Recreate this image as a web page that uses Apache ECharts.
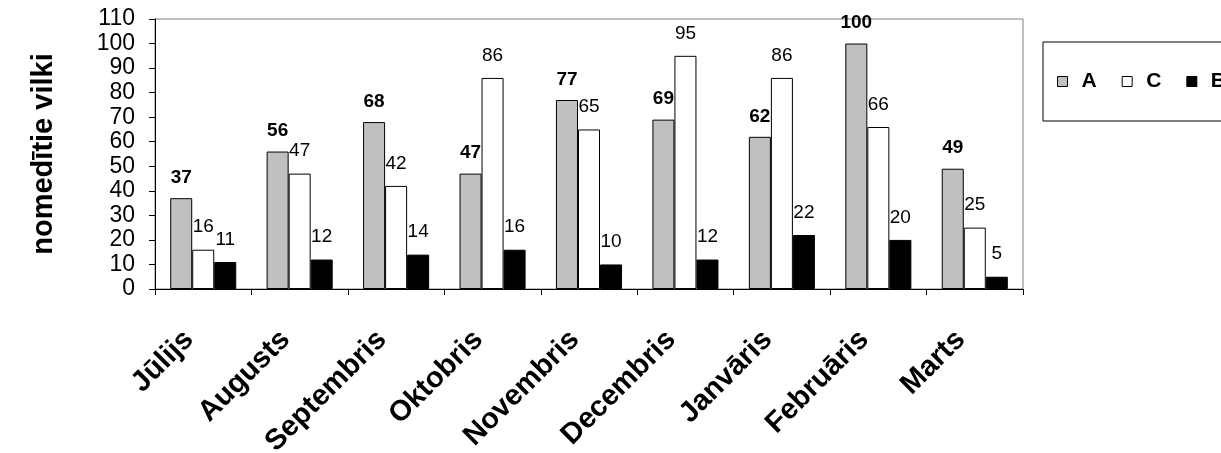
<!DOCTYPE html>
<html>
<head>
<meta charset="utf-8">
<script src="https://cdn.jsdelivr.net/npm/echarts@6/dist/echarts.min.js"></script>
<style>
html,body{margin:0;padding:0;background:#fff;}
#main{width:1221px;height:453px;}
</style>
</head>
<body>
<div id="main"></div>
<script>
const categories = ['Jūlijs','Augusts','Septembris','Oktobris','Novembris','Decembris','Janvāris','Februāris','Marts'];
const seriesA = [37,56,68,47,77,69,62,100,49];
const seriesC = [16,47,42,86,65,95,86,66,25];
const seriesB = [11,12,14,16,10,12,22,20,5];
const yTicks = {min:0, max:110, interval:10};
const yName = 'nomedītie vilki';

const FONT = 'Arial, "Liberation Sans", sans-serif';
const chart = echarts.init(document.getElementById('main'), null, {renderer:'canvas'});

function barSeries(name, data, color, bold, dist){
  return {
    name: name, type:'bar', data: data,
    barGap:'0%', barCategoryGap:'31.5%',
    itemStyle:{color:color, borderColor:'#000', borderWidth:1},
    label:{show:true, position:'top', distance:dist, color:'#000',
      fontFamily:FONT, fontSize:19, fontWeight: bold?'bold':'normal'},
    emphasis:{disabled:true}
  };
}

chart.setOption({
  animation:false,
  backgroundColor:'#fff',
  grid:{left:155, right:198, top:19, bottom:164, containLabel:false, outerBoundsMode:'none',
    show:true, borderColor:'#808080', borderWidth:1, backgroundColor:'transparent'},
  legend:{
    left:1043, top:42, width:400, orient:'horizontal',
    borderColor:'#000', borderWidth:1,
    padding:[29,60,29,14],
    itemWidth:10, itemHeight:10, itemGap:25,
    icon:'rect',
    itemStyle:{borderColor:'#000', borderWidth:1},
    textStyle:{fontFamily:FONT, fontSize:21, fontWeight:'bold', color:'#000', padding:[0,0,0,9]},
    data:['A','C','B']
  },
  xAxis:{
    type:'category', data:categories, boundaryGap:true,
    axisLine:{show:true, lineStyle:{color:'#000', width:1}},
    axisTick:{show:true, alignWithLabel:false, length:6, lineStyle:{color:'#000'}},
    axisLabel:{rotate:45, margin:32, interval:0, padding:[0,20,0,0], fontFamily:FONT, fontSize:29, fontWeight:'bold', color:'#000'},
    splitLine:{show:false}
  },
  yAxis:{
    type:'value', min:yTicks.min, max:yTicks.max, interval:yTicks.interval,
    name:yName, nameLocation:'middle', nameGap:97, nameRotate:90,
    nameTextStyle:{fontFamily:FONT, fontSize:29, fontWeight:'bold', color:'#000'},
    axisLine:{show:true, lineStyle:{color:'#000', width:1}},
    axisTick:{show:true, length:6, inside:false, lineStyle:{color:'#000'}},
    axisLabel:{fontFamily:FONT, fontSize:23, color:'#000', margin:20},
    splitLine:{show:false}
  },
  series:[
    barSeries('A', seriesA, '#c0c0c0', true, 11),
    barSeries('C', seriesC, '#ffffff', false, 13),
    barSeries('B', seriesB, '#000000', false, 13)
  ]
});
</script>
</body>
</html>
